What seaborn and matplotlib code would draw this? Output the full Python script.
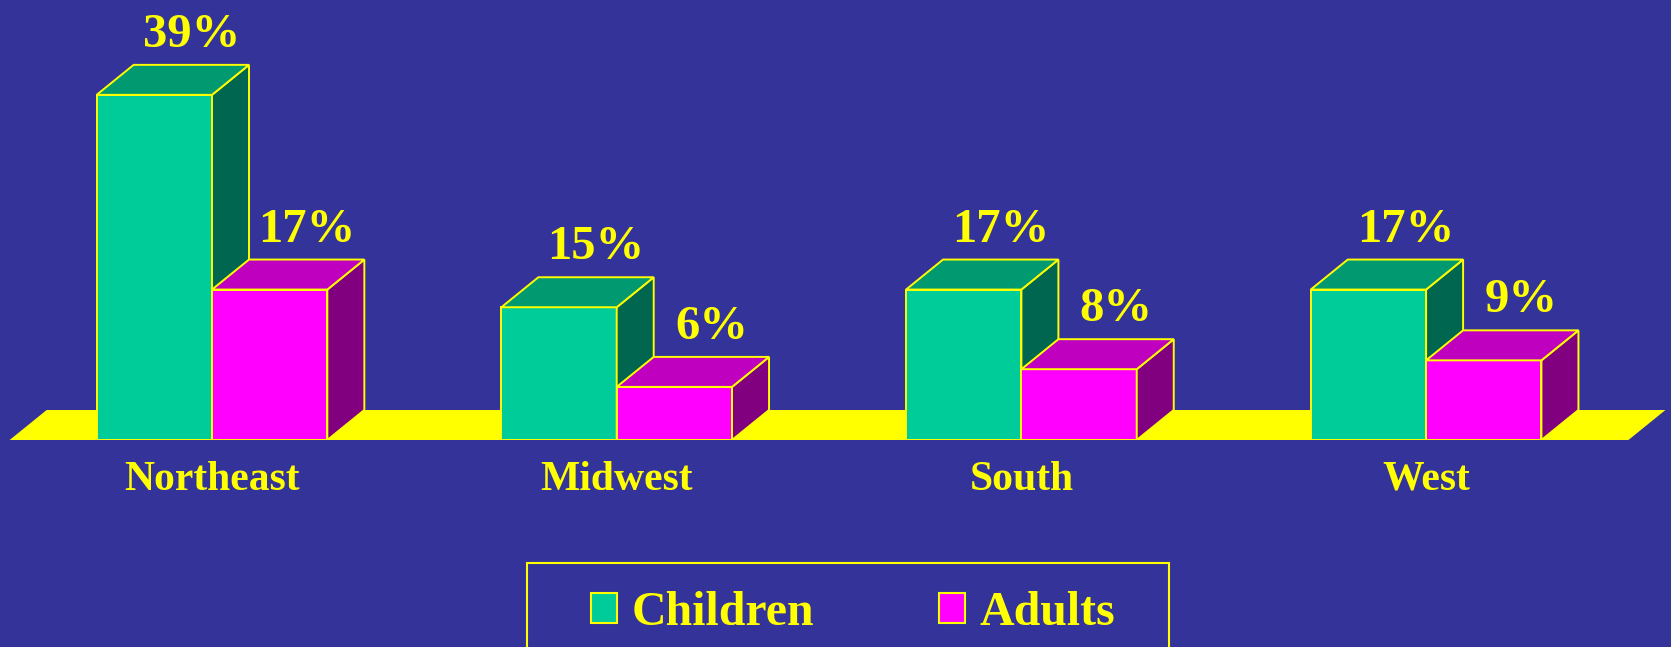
import pandas as pd
import matplotlib.pyplot as plt
import seaborn as sns
from matplotlib.patches import Polygon, Patch, Rectangle

# data
regions = ['Northeast', 'Midwest', 'South', 'West']
groups = ['Children', 'Adults']
children = [39, 15, 17, 17]
adults = [17, 6, 8, 9]

bg = '#333399'
yellow = '#FFFF00'
front = ['#00CC99', '#FF00FF']
top = ['#009970', '#BF00BF']
side = ['#006650', '#800080']

df = pd.DataFrame({
    'Region': regions * 2,
    'Group': [groups[0]] * 4 + [groups[1]] * 4,
    'Percent': children + adults,
})

sns.set_theme(style='white')
plt.rcParams['font.family'] = ['Liberation Serif', 'DejaVu Serif']

fig = plt.figure(figsize=(16.71, 6.47), dpi=100, facecolor=bg)
ax = fig.add_axes([0, 207 / 647, 1, 440 / 647])
ax.set_axis_off()

sns.barplot(data=df, x='Region', y='Percent', hue='Group', hue_order=groups,
            palette=front, saturation=1, width=0.57, edgecolor=yellow,
            linewidth=1.4, legend=False, ax=ax)

ax.set_xlim(-212 / 404.7, (1671 - 212) / 404.7)
ax.set_ylim(0, 440 / 8.85)

# depth of the fake 3D, in pixels, turned into data units
px_x = ax.transData.transform((1, 0))[0] - ax.transData.transform((0, 0))[0]
px_y = ax.transData.transform((0, 1))[1] - ax.transData.transform((0, 0))[1]
DX_PX, DY_PX = 37, 30
dx, dy = DX_PX / px_x, DY_PX / px_y

# yellow floor
floor = Polygon([(-0.5, 0), (3.5, 0), (3.5 + dx, dy), (-0.5 + dx, dy)],
                closed=True, facecolor=yellow, edgecolor='none', zorder=1)
ax.add_patch(floor)

for i, cont in enumerate(ax.containers):
    for bar in cont:
        bar.set_zorder(3 + i)
        x0 = bar.get_x()
        w = bar.get_width()
        h = bar.get_height()
        x1 = x0 + w
        s = Polygon([(x1, 0), (x1 + dx, dy), (x1 + dx, h + dy), (x1, h)],
                    closed=True, facecolor=side[i], edgecolor=yellow,
                    linewidth=1.4, zorder=3 + i)
        t = Polygon([(x0, h), (x1, h), (x1 + dx, h + dy), (x0 + dx, h + dy)],
                    closed=True, facecolor=top[i], edgecolor=yellow,
                    linewidth=1.4, zorder=3 + i)
        ax.add_patch(s)
        ax.add_patch(t)
        ax.annotate(f'{h:.0f}%', (x0 + w / 2, h), xytext=(DX_PX, DY_PX + 18),
                    textcoords='offset pixels', ha='center', va='baseline',
                    fontsize=35, fontweight='bold', color=yellow, zorder=6)

for i, r in enumerate(regions):
    ax.annotate(r, (i, 0), xytext=(0, -50), textcoords='offset pixels',
                ha='center', va='baseline', fontsize=30, fontweight='bold',
                color=yellow)

# legend, with its own frame running off the bottom edge
fig.patches.append(Rectangle((527 / 1671, -20 / 647), 642 / 1671, 104 / 647,
                             transform=fig.transFigure, facecolor='none',
                             edgecolor=yellow, linewidth=1.5))
handles = [Patch(facecolor=front[i], edgecolor=yellow, linewidth=1.5)
           for i in range(2)]
leg = fig.legend(handles, groups, loc='center',
                 bbox_to_anchor=(853 / 1671, 1 - 613 / 647), ncol=2,
                 frameon=False, handlelength=0.55, handleheight=0.57,
                 handletextpad=0.3, columnspacing=2.6,
                 prop={'size': 34.5, 'weight': 'bold'})
for txt in leg.get_texts():
    txt.set_color(yellow)

fig.savefig('out.png', dpi=100, facecolor=bg)
